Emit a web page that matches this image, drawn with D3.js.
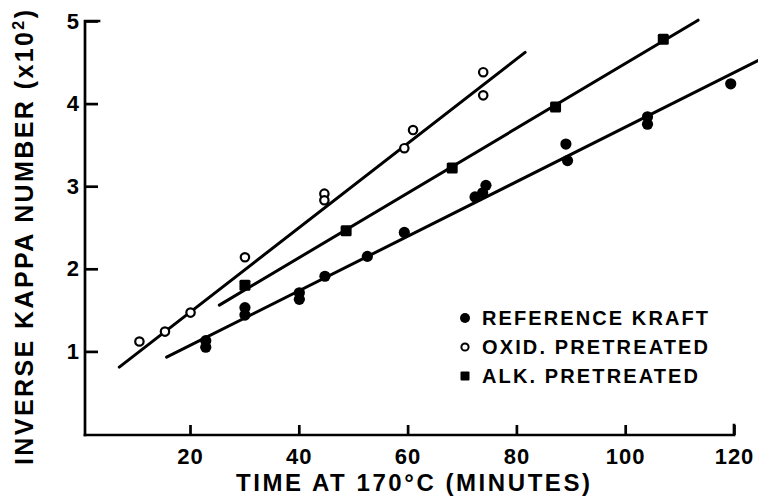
<!DOCTYPE html>
<html>
<head>
<meta charset="utf-8">
<script src="https://cdn.jsdelivr.net/npm/d3@7"></script>
<style>
  html, body { margin: 0; padding: 0; background: #fff; }
  svg { display: block; }
  text { font-family: "Liberation Sans", Arial, Helvetica, sans-serif; fill: #000; }
</style>
</head>
<body>
<svg id="chart" width="758" height="496"></svg>
<script>
// ---- Data ----
const xTicks = [20, 40, 60, 80, 100, 120];
const yTicks = [1, 2, 3, 4, 5];

// Reference kraft (filled circles)
const refTime  = [22.9, 22.9, 30.1, 30.1, 40.1, 40.1, 44.8, 52.6, 59.4, 72.4, 73.8, 74.4, 89.1, 89.4, 104.1, 104.1, 119.4];
const refValue = [1.13, 1.05, 1.53, 1.44, 1.71, 1.63, 1.91, 2.15, 2.44, 2.87, 2.92, 3.01, 3.51, 3.31, 3.84, 3.75, 4.24];

// Oxid. pretreated (open circles)
const oxidTime  = [10.7, 15.4, 20.1, 30.1, 44.7, 44.7, 59.4, 61.0, 73.9, 73.9];
const oxidValue = [1.12, 1.24, 1.47, 2.14, 2.91, 2.83, 3.46, 3.68, 4.38, 4.10];

// Alk. pretreated (filled squares)
const alkTime  = [30.1, 48.7, 68.2, 87.2, 107.0];
const alkValue = [1.80, 2.46, 3.22, 3.96, 4.78];

// Fitted straight lines: [start, end]
const refFitTime  = [15.7, 124.4];
const refFitValue = [0.93, 4.52];
const oxidFitTime  = [7.0, 81.6];
const oxidFitValue = [0.81, 4.62];
const alkFitTime  = [25.4, 113.4];
const alkFitValue = [1.56, 5.01];

const legendLabels = ["REFERENCE KRAFT", "OXID. PRETREATED", "ALK. PRETREATED"];

// ---- Layout ----
const svg = d3.select("#chart");
const AXIS_X = 85;      // drawn position of the vertical axis
const AXIS_Y = 435;     // drawn position of the horizontal axis

const x = d3.scaleLinear().domain([0, 120]).range([81.2, 734]);
const y = d3.scaleLinear().domain([0, 5]).range([434, 21]);

const STROKE = 2.7;

// ---- Axes ----
const yAxis = d3.axisLeft(y).tickValues(yTicks).tickFormat(d3.format("d"))
  .tickSizeInner(-13).tickSizeOuter(0).tickPadding(5);
const gy = svg.append("g").attr("transform", `translate(${AXIS_X},0)`).call(yAxis);
gy.select(".domain").attr("d", `M0,${AXIS_Y}V${y(5)}H14`);

const xAxis = d3.axisBottom(x).tickValues(xTicks).tickFormat(d3.format("d"))
  .tickSizeInner(-10).tickSizeOuter(0).tickPadding(13);
const gx = svg.append("g").attr("transform", `translate(0,${AXIS_Y})`).call(xAxis);
gx.select(".domain").attr("d", `M${AXIS_X},0H${x(120)}V-10`);

[gx, gy].forEach(g => {
  g.selectAll("path, line").attr("stroke", "#000").attr("stroke-width", STROKE)
    .attr("fill", "none").attr("stroke-linecap", "square");
  g.selectAll("text")
    .style("font-family", '"Liberation Sans", Arial, sans-serif')
    .style("font-weight", "bold").style("font-size", "22px")
    .style("letter-spacing", "1px").attr("fill", "#000");
});
gy.selectAll(".tick line").attr("stroke-linecap", "butt");
gx.selectAll(".tick line").attr("stroke-linecap", "butt");

// ---- Axis titles ----
svg.append("text")
  .attr("x", 236).attr("y", 491)
  .attr("textLength", 354).attr("lengthAdjust", "spacing")
  .style("font-size", "24px").style("font-weight", "bold")
  .text("TIME AT 170°C (MINUTES)");

const yt = svg.append("text")
  .attr("transform", "translate(33,465) rotate(-90)")
  .attr("textLength", 455).attr("lengthAdjust", "spacing")
  .style("font-size", "25px").style("font-weight", "bold");
yt.append("tspan").text("INVERSE KAPPA NUMBER (x10");
yt.append("tspan").attr("dy", -9).style("font-size", "16px").text("2");
yt.append("tspan").attr("dy", 9).text(")");

// ---- Fitted lines ----
const fits = [
  [refFitTime, refFitValue],
  [oxidFitTime, oxidFitValue],
  [alkFitTime, alkFitValue]
];
const lineGen = d3.line().x(d => x(d[0])).y(d => y(d[1]));
fits.forEach(([ts, vs]) => {
  svg.append("path")
    .datum(ts.map((t, i) => [t, vs[i]]))
    .attr("d", lineGen)
    .attr("fill", "none").attr("stroke", "#000")
    .attr("stroke-width", 3).attr("stroke-linecap", "round");
});

// ---- Points ----
const refPts = refTime.map((t, i) => [t, refValue[i]]);
const oxidPts = oxidTime.map((t, i) => [t, oxidValue[i]]);
const alkPts = alkTime.map((t, i) => [t, alkValue[i]]);

svg.append("g").selectAll("circle").data(refPts).join("circle")
  .attr("cx", d => x(d[0])).attr("cy", d => y(d[1])).attr("r", 5.6)
  .attr("fill", "#000");

svg.append("g").selectAll("circle").data(oxidPts).join("circle")
  .attr("cx", d => x(d[0])).attr("cy", d => y(d[1])).attr("r", 4.2)
  .attr("fill", "#fff").attr("stroke", "#000").attr("stroke-width", 2.2);

const SQ = 11;
svg.append("g").selectAll("rect").data(alkPts).join("rect")
  .attr("x", d => x(d[0]) - SQ / 2).attr("y", d => y(d[1]) - SQ / 2)
  .attr("width", SQ).attr("height", SQ).attr("rx", 1.5)
  .attr("fill", "#000");

// ---- Legend ----
const legendX = 465, legendTextX = 482, legendY0 = 318, legendStep = 29;
const legendWidths = [226, 226, 216];
const lg = svg.append("g");
legendLabels.forEach((lab, i) => {
  const cy = legendY0 + i * legendStep;
  if (i === 0) {
    lg.append("circle").attr("cx", legendX).attr("cy", cy).attr("r", 5).attr("fill", "#000");
  } else if (i === 1) {
    lg.append("circle").attr("cx", legendX).attr("cy", cy).attr("r", 3.6)
      .attr("fill", "#fff").attr("stroke", "#000").attr("stroke-width", 2);
  } else {
    lg.append("rect").attr("x", legendX - 4.5).attr("y", cy - 4.5)
      .attr("width", 9).attr("height", 9).attr("rx", 1).attr("fill", "#000");
  }
  lg.append("text")
    .attr("x", legendTextX).attr("y", cy + 7)
    .attr("textLength", legendWidths[i]).attr("lengthAdjust", "spacing")
    .style("font-size", "20px").style("font-weight", "bold")
    .text(lab);
});
</script>
</body>
</html>
